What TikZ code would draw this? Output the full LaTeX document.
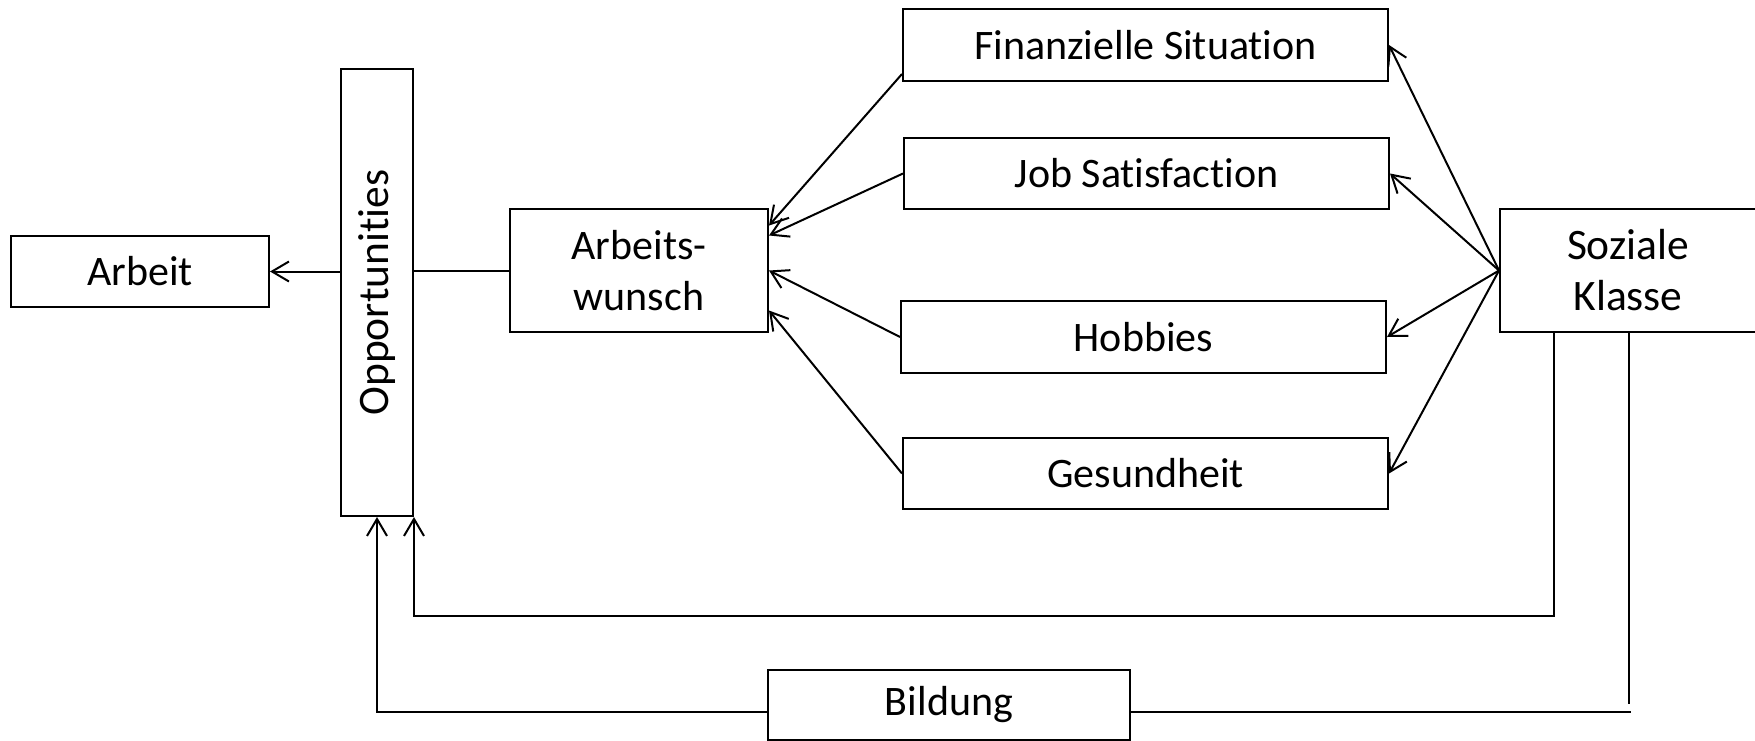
\documentclass[tikz,border=0pt]{standalone}
\usepackage{fontspec}
\setmainfont{Carlito}[Ligatures=NoCommon]
\usetikzlibrary{arrows.meta}
\tikzset{
  box/.style={draw, line width=2pt, inner sep=0pt, align=center,
    font=\fontsize{42}{51}\selectfont},
  bigtext/.style={font=\fontsize{43.5}{51}\selectfont},
  lbl/.style={inner sep=0pt, font=\fontsize{43.5}{51}\selectfont},
  conn/.style={line width=2pt},
  arr/.style={line width=2pt, -{Straight Barb[length=17pt,width=20pt,line width=2pt]}}
}
\begin{document}
\begin{tikzpicture}[x=1pt,y=-1pt]
\useasboundingbox (0,0) rectangle (1755,741);
% nodes
\node[box, minimum width=258pt, minimum height=71pt] (arbeit) at (140,271.5) {Arbeit};
\node[box, minimum width=72pt, minimum height=447pt] (opp) at (377,292.5) {};
\node[lbl, rotate=90] (opplabel) at (opp.center) {Opportunities};
\node[box, minimum width=258pt, minimum height=123pt] (wunsch) at (639,270.5) {Arbeits-\\wunsch};
\node[box, minimum width=485pt, minimum height=72pt] (fin) at (1145.5,45) {Finanzielle Situation};
\node[box, minimum width=485pt, minimum height=71pt] (job) at (1146.5,173.5) {Job Satisfaction};
\node[box, minimum width=485pt, minimum height=72pt] (hob) at (1143.5,337) {Hobbies};
\node[box, minimum width=485pt, minimum height=71pt] (ges) at (1145.5,473.5) {Gesundheit};
\node[box, bigtext, minimum width=256pt, minimum height=123pt] (soz) at (1628,270.5) {Soziale\\Klasse};
\node[box, minimum width=362pt, minimum height=70pt] (bild) at (949,704.5) {Bildung};
% connectors
\draw[arr] (opp.west |- arbeit.east) -- (arbeit.east);
\draw[conn] (wunsch.west) -- (opp.east |- wunsch.west);
\draw[arr] ([yshift=8pt]fin.south west) -- ([yshift=45pt]wunsch.east);
\draw[arr] (job.west) -- ([yshift=35pt]wunsch.east);
\draw[arr] (hob.west) -- (wunsch.east);
\draw[arr] (ges.west) -- ([yshift=-40pt]wunsch.east);
\draw[arr] (soz.west) -- (fin.east);
\draw[arr] (soz.west) -- (job.east);
\draw[arr] (soz.west) -- (hob.east);
\draw[arr] (soz.west) -- (ges.east);
\draw[arr] ([xshift=-74pt]soz.south) -- ++(0,282.5) -| (opp.south east);
\draw[conn] ([xshift=1pt]soz.south) -- ++(0,371);
\draw[conn] ([yshift=-7pt]bild.east) -- ++(499.5,0);
\draw[arr] ([yshift=-7pt]bild.west) -| (opp.south);
\end{tikzpicture}
\end{document}
